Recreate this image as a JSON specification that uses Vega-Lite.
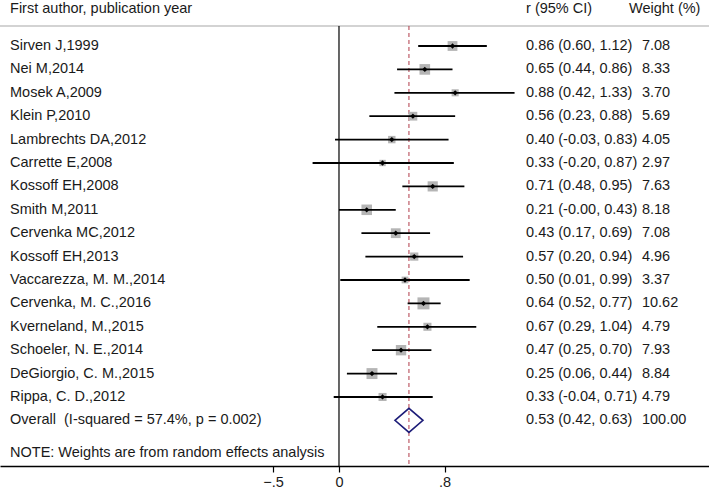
{
  "$schema": "https://vega.github.io/schema/vega-lite/v6.json",
  "width": 709,
  "height": 466,
  "autosize": "none",
  "padding": {"left": 0, "top": 0, "right": 0, "bottom": 24},
  "background": "white",
  "config": {
    "view": {"stroke": null},
    "font": "Liberation Sans",
    "text": {"font": "Liberation Sans", "fontSize": 14.5, "color": "#1a1a1a", "baseline": "middle", "align": "left"}
  },
  "data": {
    "values": [
      {"row": 1, "type": "study", "label": "Sirven J,1999", "est": 0.86, "lo": 0.60, "hi": 1.12, "weight": 7.08, "ci": "0.86 (0.60, 1.12)", "w": "7.08"},
      {"row": 2, "type": "study", "label": "Nei M,2014", "est": 0.65, "lo": 0.44, "hi": 0.86, "weight": 8.33, "ci": "0.65 (0.44, 0.86)", "w": "8.33"},
      {"row": 3, "type": "study", "label": "Mosek A,2009", "est": 0.88, "lo": 0.42, "hi": 1.33, "weight": 3.70, "ci": "0.88 (0.42, 1.33)", "w": "3.70"},
      {"row": 4, "type": "study", "label": "Klein P,2010", "est": 0.56, "lo": 0.23, "hi": 0.88, "weight": 5.69, "ci": "0.56 (0.23, 0.88)", "w": "5.69"},
      {"row": 5, "type": "study", "label": "Lambrechts DA,2012", "est": 0.40, "lo": -0.03, "hi": 0.83, "weight": 4.05, "ci": "0.40 (-0.03, 0.83)", "w": "4.05"},
      {"row": 6, "type": "study", "label": "Carrette E,2008", "est": 0.33, "lo": -0.20, "hi": 0.87, "weight": 2.97, "ci": "0.33 (-0.20, 0.87)", "w": "2.97"},
      {"row": 7, "type": "study", "label": "Kossoff EH,2008", "est": 0.71, "lo": 0.48, "hi": 0.95, "weight": 7.63, "ci": "0.71 (0.48, 0.95)", "w": "7.63"},
      {"row": 8, "type": "study", "label": "Smith M,2011", "est": 0.21, "lo": -0.00, "hi": 0.43, "weight": 8.18, "ci": "0.21 (-0.00, 0.43)", "w": "8.18"},
      {"row": 9, "type": "study", "label": "Cervenka MC,2012", "est": 0.43, "lo": 0.17, "hi": 0.69, "weight": 7.08, "ci": "0.43 (0.17, 0.69)", "w": "7.08"},
      {"row": 10, "type": "study", "label": "Kossoff EH,2013", "est": 0.57, "lo": 0.20, "hi": 0.94, "weight": 4.96, "ci": "0.57 (0.20, 0.94)", "w": "4.96"},
      {"row": 11, "type": "study", "label": "Vaccarezza, M. M.,2014", "est": 0.50, "lo": 0.01, "hi": 0.99, "weight": 3.37, "ci": "0.50 (0.01, 0.99)", "w": "3.37"},
      {"row": 12, "type": "study", "label": "Cervenka, M. C.,2016", "est": 0.64, "lo": 0.52, "hi": 0.77, "weight": 10.62, "ci": "0.64 (0.52, 0.77)", "w": "10.62"},
      {"row": 13, "type": "study", "label": "Kverneland, M.,2015", "est": 0.67, "lo": 0.29, "hi": 1.04, "weight": 4.79, "ci": "0.67 (0.29, 1.04)", "w": "4.79"},
      {"row": 14, "type": "study", "label": "Schoeler, N. E.,2014", "est": 0.47, "lo": 0.25, "hi": 0.70, "weight": 7.93, "ci": "0.47 (0.25, 0.70)", "w": "7.93"},
      {"row": 15, "type": "study", "label": "DeGiorgio, C. M.,2015", "est": 0.25, "lo": 0.06, "hi": 0.44, "weight": 8.84, "ci": "0.25 (0.06, 0.44)", "w": "8.84"},
      {"row": 16, "type": "study", "label": "Rippa, C. D.,2012", "est": 0.33, "lo": -0.04, "hi": 0.71, "weight": 4.79, "ci": "0.33 (-0.04, 0.71)", "w": "4.79"},
      {"row": 17, "type": "overall", "label": "Overall \u00a0(I-squared = 57.4%, p = 0.002)", "est": 0.53, "lo": 0.42, "hi": 0.63, "weight": 100.00, "ci": "0.53 (0.42, 0.63)", "w": "100.00"}
    ]
  },
  "encoding": {
    "y": {"field": "row", "type": "quantitative", "scale": {"domain": [-0.966, 18.95], "reverse": true, "nice": false, "zero": false}, "axis": null}
  },
  "layer": [
    {
      "transform": [{"filter": "datum.row == 1"}],
      "mark": {"type": "rule", "color": "#c4c4c4", "strokeWidth": 1.5},
      "encoding": {
        "x": {"datum": -2.568, "type": "quantitative", "scale": {"domain": [-2.568, 2.803], "nice": false, "zero": false},
          "axis": {"values": [-0.5, 0, 0.8], "title": null, "grid": false, "domainColor": "#000000", "domainWidth": 1.5, "tickColor": "#000000", "tickWidth": 1.2, "tickSize": 6, "labelFontSize": 14.5, "labelColor": "#1a1a1a", "labelFont": "Liberation Sans", "labelPadding": 3, "labelExpr": "datum.value == 0 ? '0' : replace(format(datum.value, '.1f'), '0.', '.')"}},
        "x2": {"datum": 2.803},
        "y": {"datum": 0.145}
      }
    },
    {
      "transform": [{"filter": "datum.row == 1"}],
      "mark": {"type": "rule", "color": "#000000", "strokeWidth": 1.2},
      "encoding": {"x": {"datum": 0}, "y": {"datum": 0.145}, "y2": {"datum": 18.95}}
    },
    {
      "transform": [{"filter": "datum.row == 1"}],
      "mark": {"type": "rule", "color": "#b03a48", "strokeWidth": 1, "strokeDash": [4, 3]},
      "encoding": {"x": {"datum": 0.53}, "y": {"datum": 0.145}, "y2": {"datum": 18.95}}
    },
    {
      "transform": [{"filter": "datum.type == 'study'"}],
      "mark": {"type": "square", "filled": true, "color": "#b5b5b5", "opacity": 1},
      "encoding": {
        "x": {"field": "est", "type": "quantitative"},
        "size": {"field": "weight", "type": "quantitative", "scale": {"domain": [0, 10.62], "range": [0, 144], "zero": true}, "legend": null}
      }
    },
    {
      "transform": [{"filter": "datum.type == 'study'"}],
      "mark": {"type": "rule", "color": "#000000", "strokeWidth": 1.8},
      "encoding": {"x": {"field": "lo", "type": "quantitative"}, "x2": {"field": "hi"}}
    },
    {
      "transform": [{"filter": "datum.type == 'study'"}],
      "mark": {"type": "point", "shape": "diamond", "filled": true, "color": "#000000", "size": 28, "opacity": 1},
      "encoding": {"x": {"field": "est", "type": "quantitative"}}
    },
    {
      "transform": [{"filter": "datum.type == 'overall'"}],
      "mark": {"type": "point", "shape": "M-1,0L0,-0.86L1,0L0,0.86Z", "filled": false, "stroke": "#1c1c78", "strokeWidth": 1.6, "size": 784, "opacity": 1},
      "encoding": {"x": {"field": "est", "type": "quantitative"}}
    },
    {
      "mark": {"type": "text"},
      "encoding": {"x": {"datum": -2.492}, "text": {"field": "label"}}
    },
    {
      "mark": {"type": "text"},
      "encoding": {"x": {"datum": 1.417}, "text": {"field": "ci"}}
    },
    {
      "mark": {"type": "text"},
      "encoding": {"x": {"datum": 2.295}, "text": {"field": "w"}}
    },
    {
      "transform": [{"filter": "datum.row == 1"}],
      "mark": {"type": "text"},
      "encoding": {"x": {"datum": -2.492}, "y": {"datum": -0.58}, "text": {"value": "First author, publication year"}}
    },
    {
      "transform": [{"filter": "datum.row == 1"}],
      "mark": {"type": "text"},
      "encoding": {"x": {"datum": 1.417}, "y": {"datum": -0.58}, "text": {"value": "r (95% CI)"}}
    },
    {
      "transform": [{"filter": "datum.row == 1"}],
      "mark": {"type": "text"},
      "encoding": {"x": {"datum": 2.197}, "y": {"datum": -0.58}, "text": {"value": "Weight (%)"}}
    },
    {
      "transform": [{"filter": "datum.row == 1"}],
      "mark": {"type": "text"},
      "encoding": {"x": {"datum": -2.492}, "y": {"datum": 18.39}, "text": {"value": "NOTE: Weights are from random effects analysis"}}
    }
  ]
}
